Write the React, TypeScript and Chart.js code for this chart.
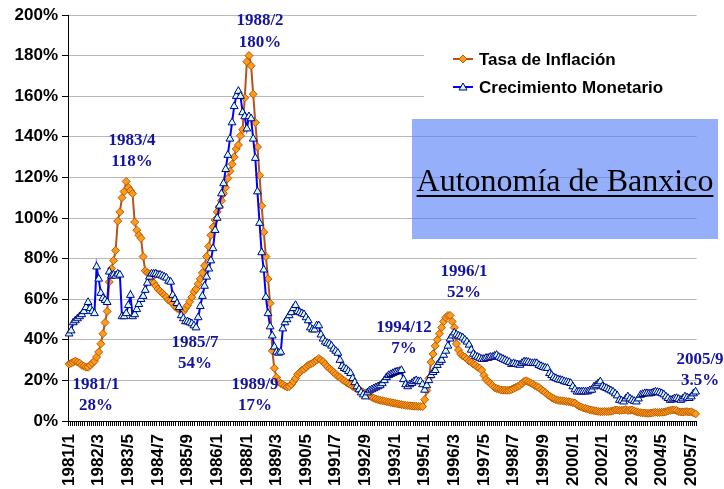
import React, { useEffect, useRef } from 'react';
import { Chart, registerables } from 'chart.js';

Chart.register(...registerables);

// ---------- DATA ----------
const firstYear = 1981;
const monthCount = 297; // 1981/1 .. 2005/9
const months: string[] = [];
for (let i = 0; i < monthCount; i++) {
  months.push(`${firstYear + Math.floor(i / 12)}/${(i % 12) + 1}`);
}

// tick labels shown every 14 months (as printed on the axis)
const tickLabels = [
  '1981/1', '1982/3', '1983/5', '1984/7', '1985/9', '1986/1', '1988/1', '1989/3',
  '1990/5', '1991/7', '1992/9', '1993/1', '1995/1', '1996/3', '1997/5', '1998/7',
  '1999/9', '2000/1', '2002/1', '2003/3', '2004/5', '2005/7',
];
const tickEvery = 14;

const inflacion: number[] = [
  // 1981
  28, 28.5, 29, 29.5, 29, 28.5, 27.5, 27, 26.5, 26.5, 27.5, 28.5,
  // 1982
  29.5, 31.5, 34, 38, 43, 48.5, 54, 68.5, 75, 79, 84, 98.5,
  // 1983
  103, 110, 113, 118, 115, 113.5, 112, 98, 94, 91.5, 90, 81,
  // 1984
  74, 73, 72.5, 70.5, 68, 66.5, 65, 64, 63, 62, 61, 59.5,
  // 1985
  59, 58, 56.5, 55.5, 55, 54.5, 54, 55.5, 57, 58.8, 61, 63.7,
  // 1986
  65, 67.5, 70, 73, 76.5, 81, 86, 91.5, 95.5, 99, 103, 105.7,
  // 1987
  108.5, 112, 115, 119.5, 123, 126.5, 130, 134, 136, 140.5, 143.5, 159.2,
  // 1988
  177, 180, 175, 161, 147, 135, 121, 106, 93, 81, 70, 58,
  // 1989
  34.6, 26, 21.5, 19.5, 18.5, 18, 17.2, 16.8, 17, 18, 19.4, 21,
  // 1990
  23, 24, 25, 25.5, 26.5, 27.5, 28, 28.5, 29.3, 30, 30.8, 30,
  // 1991
  29.3, 28, 26.8, 25.8, 25, 24, 23, 22, 21.5, 20.5, 19.8, 19,
  // 1992
  18.5, 17.8, 17, 16.5, 16, 15.5, 14.8, 14.2, 13.6, 13, 12.3, 11.7,
  // 1993
  11.2, 10.8, 10.5, 10.2, 10, 9.8, 9.5, 9.3, 9.1, 8.9, 8.7, 8.5,
  // 1994
  8.3, 8.1, 7.9, 7.7, 7.6, 7.5, 7.4, 7.3, 7.3, 7.2, 7.2, 7.1,
  // 1995
  10.5, 15, 21, 29, 33, 37, 40, 43, 46, 49, 51, 52,
  // 1996
  52, 49, 46, 38, 35, 33, 32, 31.5, 30.5, 29.5, 29, 28,
  // 1997
  27.5, 26.5, 26, 25, 22.5, 20.5, 19.5, 18.5, 17.5, 16.5, 16, 15.7,
  // 1998
  15.3, 15.2, 15.2, 15.1, 15.2, 15.5, 16, 16.5, 17, 17.5, 18.5, 19.5,
  // 1999
  19.8, 19.3, 18.8, 18.2, 17.5, 17, 16.5, 15.5, 14.8, 14, 13, 12.3,
  // 2000
  11.5, 11, 10.5, 10.2, 10, 10, 9.8, 9.6, 9.5, 9.3, 9, 8.8,
  // 2001
  8, 7.3, 6.9, 6.4, 6.2, 5.9, 5.5, 5.3, 5.1, 4.9, 4.7, 4.6,
  // 2002
  4.6, 4.7, 4.6, 4.7, 4.8, 5, 5.4, 5.4, 5.2, 5.3, 5.4, 5.6,
  // 2003
  5.2, 5.3, 5.4, 5, 4.6, 4.3, 4.1, 4, 3.9, 3.8, 3.8, 3.9,
  // 2004
  4.1, 4.3, 4.2, 4.2, 4.3, 4.4, 4.6, 5, 5.2, 5.4, 5.4, 5.2,
  // 2005
  4.6, 4.4, 4.4, 4.6, 4.6, 4.4, 4.5, 4, 3.5,
];

const crecimientoMonetario: number[] = [
  // 1981
  43, 44.5, 48.5, 49.5, 50.5, 51.5, 52.5, 54, 56, 58.5, 55.5, 54,
  // 1982
  53, 76, 70, 63, 60.5, 59.5, 58.5, 73.5, 71.5, 72, 71.5, 72.5,
  // 1983
  72, 51.5, 51.5, 53, 57, 62, 51.5, 52.5, 55, 57.5, 60, 61.5,
  // 1984
  64.5, 68, 71, 72.5, 72.5, 72.5, 72, 72, 71.5, 71, 70.5, 69,
  // 1985
  68.5, 62, 60, 58, 56, 52, 50.5, 49, 49, 48.5, 48, 47,
  // 1986
  46, 51, 56.5, 61.5, 66.5, 71, 75, 79, 85, 94, 100, 106,
  // 1987
  112, 117, 124, 131, 139, 147, 155, 160, 162.5, 160, 152, 150,
  // 1988
  144, 150, 149, 139, 129.5, 113, 97.5, 83, 74.5, 61, 53, 46.5,
  // 1989
  42, 36.5, 34, 33.5, 34, 45.5, 48.5, 50, 52, 53.5, 55.5, 57,
  // 1990
  54, 53.5, 53, 52.5, 51, 49.5, 46, 45, 45, 47, 47, 42.5,
  // 1991
  40.5, 39, 38.3, 38, 37, 35.5, 34.5, 33.5, 30, 27, 26, 25.5,
  // 1992
  24.5, 23.5, 21, 19, 17, 15.5, 14, 13, 12, 14, 15, 15.5,
  // 1993
  16, 16.5, 17, 17.5, 18.5, 20, 21.5, 22.5, 23, 23.5, 24, 24.3,
  // 1994
  24.5, 25, 20.5, 18, 17, 18, 18.6, 19.5, 20, 19.5, 19.5, 18,
  // 1995
  15.3, 17.5, 20, 22.5, 24, 25, 27.5, 29, 30, 32.5, 34.5, 37,
  // 1996
  40.5, 42, 43.5, 42.5, 42, 41.5, 41, 40, 39, 37.5, 35, 33,
  // 1997
  32, 31.5, 31, 30.5, 30.5, 31, 31, 31.5, 31.5, 32, 32.5, 31.5,
  // 1998
  31, 30.5, 30, 29.5, 29, 28, 28.4, 28, 27.8, 27.6, 28.5, 29.2,
  // 1999
  29.2, 29, 28.5, 28.4, 28.5, 28.4, 27.5, 27, 26.5, 26.2, 26, 23.5,
  // 2000
  22.5, 21.5, 21, 20.5, 20.2, 20, 19.5, 19.2, 19, 18.6, 17, 15.5,
  // 2001
  14.4, 14.5, 14.4, 14.5, 14.4, 14.5, 15, 15.3, 16.9, 17.5, 18.5, 19.4,
  // 2002
  17, 16.5, 16.1, 15.5, 15, 14.4, 13.5, 12.5, 10.3, 10, 9.5, 11,
  // 2003
  12, 11, 10.3, 9.8, 9.5, 11, 12.8, 13.2, 13.6, 13.6, 13.5, 13.6,
  // 2004
  14, 14.4, 14.2, 14, 13.6, 13, 12, 11.2, 10.3, 10.5, 11, 11.2,
  // 2005
  10.8, 10.3, 11, 12, 11.5, 11.2, 12, 13.5, 14.4,
];

const seriesNames = ['Tasa de Inflación', 'Crecimiento Monetario'];
const boxText = 'Autonomía de Banxico';

// annotation texts: [line1, line2, centerX, line1Y, line2Y]
const notes: [string, string, number, number, number][] = [
  ['1983/4', '118%', 132, 141, 162],
  ['1988/2', '180%', 260, 21, 43],
  ['1981/1', '28%', 96, 385, 406],
  ['1985/7', '54%', 195, 343, 364],
  ['1989/9', '17%', 255, 385, 406],
  ['1994/12', '7%', 404, 328, 349],
  ['1996/1', '52%', 464, 272, 293],
  ['2005/9', '3.5%', 700, 360, 381],
];

const SANS = 'Arial, "Liberation Sans", sans-serif';
const SERIF = '"Times New Roman", "Liberation Serif", serif';
const ORANGE_LINE = '#b4541a';
const ORANGE_FILL = '#ff9a1c';
const ORANGE_EDGE = '#b85c00';
const BLUE_LINE = '#0000ff';
const BLUE_FILL = '#ccffff';
const BLUE_EDGE = '#000080';

const overlayPlugin = {
  id: 'overlayPlugin',
  beforeDatasetsDraw(chart: any) {
    const ctx = chart.ctx;
    ctx.save();
    // translucent box
    ctx.fillStyle = 'rgba(80,122,247,0.6)';
    ctx.fillRect(412, 119, 306, 120);
    ctx.fillStyle = '#000';
    ctx.font = `32px ${SERIF}`;
    ctx.textAlign = 'center';
    ctx.textBaseline = 'alphabetic';
    const cx = 565;
    const by = 191;
    ctx.fillText(boxText, cx, by);
    const w = ctx.measureText(boxText).width;
    ctx.fillRect(cx - w / 2, by + 4, w, 2);
    ctx.restore();
  },
  afterDraw(chart: any) {
    const ctx = chart.ctx;
    ctx.save();
    // legend
    ctx.fillStyle = '#ffffff';
    ctx.fillRect(424, 38, 275, 70);
    const rows = [
      { y: 59, line: ORANGE_LINE, fill: ORANGE_FILL, edge: ORANGE_EDGE, style: 'diamond' },
      { y: 87, line: BLUE_LINE, fill: BLUE_FILL, edge: BLUE_EDGE, style: 'triangle' },
    ];
    rows.forEach((r, i) => {
      ctx.strokeStyle = r.line;
      ctx.lineWidth = 2;
      ctx.beginPath();
      ctx.moveTo(453, r.y);
      ctx.lineTo(473, r.y);
      ctx.stroke();
      ctx.fillStyle = r.fill;
      ctx.strokeStyle = r.edge;
      ctx.lineWidth = 1;
      ctx.beginPath();
      if (r.style === 'diamond') {
        ctx.moveTo(463, r.y - 4);
        ctx.lineTo(467, r.y);
        ctx.lineTo(463, r.y + 4);
        ctx.lineTo(459, r.y);
      } else {
        ctx.moveTo(463, r.y - 4);
        ctx.lineTo(467, r.y + 3);
        ctx.lineTo(459, r.y + 3);
      }
      ctx.closePath();
      ctx.fill();
      ctx.stroke();
      ctx.fillStyle = '#000';
      ctx.font = `bold 17px ${SANS}`;
      ctx.textAlign = 'left';
      ctx.textBaseline = 'middle';
      ctx.fillText(seriesNames[i], 479, r.y + 1);
    });
    // annotations
    ctx.fillStyle = '#14149c';
    ctx.font = `bold 17px ${SERIF}`;
    ctx.textAlign = 'center';
    ctx.textBaseline = 'middle';
    notes.forEach(([a, b, x, y1, y2]) => {
      ctx.fillText(a, x, y1);
      ctx.fillText(b, x, y2);
    });
    ctx.restore();
  },
};

export default function App() {
  const ref = useRef<HTMLCanvasElement | null>(null);
  useEffect(() => {
    document.body.style.margin = '0';
    const canvas = ref.current;
    if (!canvas) return;
    const chart = new Chart(canvas, {
      type: 'line',
      data: {
        labels: months,
        datasets: [
          {
            label: seriesNames[0],
            data: inflacion,
            borderColor: ORANGE_LINE,
            borderWidth: 2,
            backgroundColor: ORANGE_FILL,
            pointStyle: 'rectRot',
            pointRadius: 4,
            pointBackgroundColor: ORANGE_FILL,
            pointBorderColor: ORANGE_EDGE,
            pointBorderWidth: 1,
            tension: 0,
            order: 1,
          },
          {
            label: seriesNames[1],
            data: crecimientoMonetario,
            borderColor: BLUE_LINE,
            borderWidth: 2,
            backgroundColor: BLUE_FILL,
            pointStyle: 'triangle',
            pointRadius: 4.5,
            pointBackgroundColor: BLUE_FILL,
            pointBorderColor: BLUE_EDGE,
            pointBorderWidth: 1,
            tension: 0,
            order: 0,
          },
        ],
      },
      options: {
        responsive: false,
        devicePixelRatio: 1,
        animation: false,
        layout: { padding: { top: 15, right: 11, left: 0, bottom: 0 } },
        plugins: {
          legend: { display: false },
          tooltip: { enabled: false },
        },
        scales: {
          x: {
            type: 'category',
            offset: true,
            afterFit: (s: any) => { s.height = 68; },
            grid: {
              display: true,
              drawOnChartArea: false,
              drawTicks: true,
              tickLength: 5,
              tickColor: '#000',
              offset: true,
            },
            border: { color: '#000', width: 1 },
            ticks: {
              autoSkip: false,
              maxRotation: 90,
              minRotation: 90,
              padding: 8,
              color: '#000',
              font: { family: SANS, size: 17, weight: 'bold' },
              callback: (_v: any, idx: number) =>
                idx % tickEvery === 0 ? tickLabels[idx / tickEvery] ?? '' : '',
            },
          },
          y: {
            min: 0,
            max: 200,
            afterFit: (s: any) => { s.width = 68; },
            grid: {
              color: '#b8b8b8',
              lineWidth: 1,
              tickColor: '#000',
              tickLength: 6,
              drawTicks: true,
            },
            border: { color: '#000', width: 1 },
            ticks: {
              stepSize: 20,
              padding: 4,
              color: '#000',
              font: { family: SANS, size: 17, weight: 'bold' },
              callback: (v: any) => `${v}%`,
            },
          },
        },
      },
      plugins: [overlayPlugin],
    });
    return () => chart.destroy();
  }, []);
  return (
    <div style={{ width: 724, height: 489, position: 'relative', background: '#fff' }}>
      <canvas ref={ref} width={724} height={489} style={{ display: 'block' }} />
    </div>
  );
}
